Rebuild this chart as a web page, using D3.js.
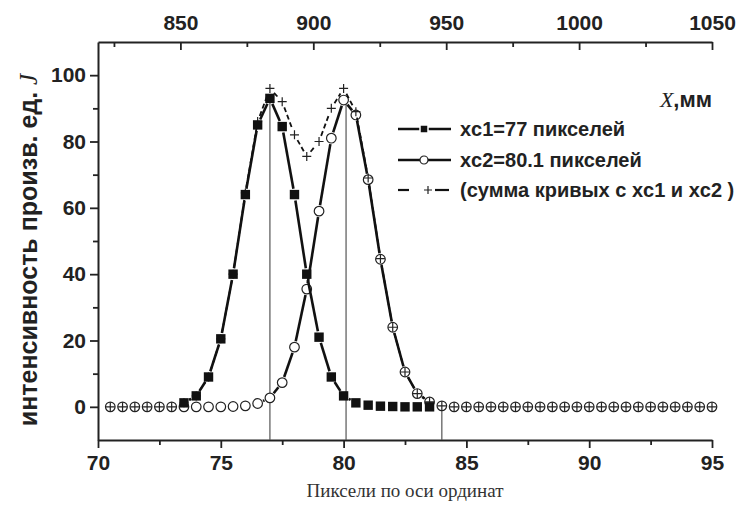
<!DOCTYPE html>
<html>
<head>
<meta charset="utf-8">
<script src="https://cdn.jsdelivr.net/npm/d3@7"></script>
<style>
  body { margin: 0; background: #fff; }
  svg { display: block; }
  .tick text { font-family: "Liberation Sans", Arial, sans-serif; font-weight: bold; font-size: 21px; fill: #222; }
  .axis path, .axis line { stroke: #222; }
</style>
</head>
<body>
<div id="chart"></div>
<script>
// pixel positions (x) for the circle series and the sum series
var pixels = [70.5, 71, 71.5, 72, 72.5, 73, 73.5, 74, 74.5, 75, 75.5, 76, 76.5, 77, 77.5, 78, 78.5, 79, 79.5, 80,
              80.5, 81, 81.5, 82, 82.5, 83, 83.5, 84, 84.5, 85, 85.5, 86, 86.5, 87, 87.5, 88, 88.5, 89, 89.5, 90,
              90.5, 91, 91.5, 92, 92.5, 93, 93.5, 94, 94.5, 95];

// xc1 = 77 (filled squares)
var pixels1 = [73.5, 74, 74.5, 75, 75.5, 76, 76.5, 77, 77.5, 78, 78.5, 79, 79.5, 80, 80.5, 81, 81.5, 82, 82.5, 83, 83.5];
var curve1  = [1.2, 3.3, 9, 20.5, 40, 64, 85, 93, 84.5, 64, 40, 21, 9, 3.3, 1.2, 0.5, 0.2, 0.1, 0, 0, 0];

// xc2 = 80.1 (open circles)
var curve2 = [0, 0, 0, 0, 0, 0, 0, 0, 0, 0, 0.1, 0.3, 1, 2.7, 7.3, 18, 35.5, 59, 81, 92.5,
              88, 68.5, 44.5, 24, 10.5, 4, 1.5, 0.3, 0, 0, 0, 0, 0, 0, 0, 0, 0, 0, 0, 0,
              0, 0, 0, 0, 0, 0, 0, 0, 0, 0];

// sum of both curves (crosses, dashed)
var curveSum = [0, 0, 0, 0, 0, 0, 1.2, 3.3, 9, 20.5, 40, 64.5, 86, 96, 92, 82, 75.5, 80, 90, 96,
                89, 69, 44.7, 24, 10.5, 4, 1.5, 0.3, 0, 0, 0, 0, 0, 0, 0, 0, 0, 0, 0, 0,
                0, 0, 0, 0, 0, 0, 0, 0, 0, 0];

// thin reference lines: centre positions and edge
var refX   = [77, 80.1, 84];
var refTop = [93, 92.5, 0];

var bottomTicks = [70, 75, 80, 85, 90, 95];
var bottomMinor = [72.5, 77.5, 82.5, 87.5, 92.5];
var topTicks = [850, 900, 950, 1000, 1050];
var topMinor = [825, 875, 925, 975, 1025];
var yTicks = [0, 20, 40, 60, 80, 100];
var yMinor = [10, 30, 50, 70, 90];

var legendLabels = ["xc1=77 пикселей", "xc2=80.1 пикселей", "(сумма кривых с xc1 и xc2 )"];

var width = 746, height = 505;
var svg = d3.select("#chart").append("svg").attr("width", width).attr("height", height);

var x = d3.scaleLinear().domain([70, 95]).range([98, 712]);
var xTop = d3.scaleLinear().domain([819, 1050]).range([98, 712]);
var y = d3.scaleLinear().domain([-10, 110]).range([440, 42]);

// axes
function minorTicks(axis, values, g) {
  g.call(axis.tickValues(values).tickFormat("").tickSizeOuter(0)).select(".domain").remove();
}

var gB = svg.append("g").attr("class", "axis").attr("transform", "translate(0," + y(-10) + ")");
gB.call(d3.axisBottom(x).tickValues(bottomTicks).tickSize(8).tickSizeOuter(0).tickPadding(4));
svg.append("g").attr("class", "axis").attr("transform", "translate(0," + y(-10) + ")")
  .call(function(g) { minorTicks(d3.axisBottom(x).tickSize(5), bottomMinor, g); });

var gT = svg.append("g").attr("class", "axis").attr("transform", "translate(0," + y(110) + ")");
gT.call(d3.axisTop(xTop).tickValues(topTicks).tickFormat(d3.format("d"))
  .tickSizeInner(-8).tickSizeOuter(0).tickPadding(12));
svg.append("g").attr("class", "axis").attr("transform", "translate(0," + y(110) + ")")
  .call(function(g) { minorTicks(d3.axisTop(xTop).tickSize(-5), topMinor, g); });

var gL = svg.append("g").attr("class", "axis").attr("transform", "translate(" + x(70) + ",0)");
gL.call(d3.axisLeft(y).tickValues(yTicks).tickSize(8).tickSizeOuter(0).tickPadding(4));
svg.append("g").attr("class", "axis").attr("transform", "translate(" + x(70) + ",0)")
  .call(function(g) { minorTicks(d3.axisLeft(y).tickSize(5), yMinor, g); });

svg.selectAll(".axis .domain").attr("stroke-width", 2);
svg.selectAll(".axis .tick line").attr("stroke-width", 1.8);
gB.selectAll(".tick text").attr("dy", "0.85em");

// reference lines
svg.append("g").selectAll("line").data(refX).join("line")
  .attr("x1", function(d) { return x(d); })
  .attr("x2", function(d) { return x(d); })
  .attr("y1", y(-10))
  .attr("y2", function(d, i) { return y(refTop[i]); })
  .attr("stroke", "#555").attr("stroke-width", 1.2);

// line drawn with a gap around each symbol, like Origin does
function gapLine(g, pts, gap, dash, sw) {
  for (var i = 0; i < pts.length - 1; i++) {
    var p0 = pts[i], p1 = pts[i + 1];
    var dx = p1[0] - p0[0], dy = p1[1] - p0[1];
    var L = Math.sqrt(dx * dx + dy * dy);
    if (L <= 2 * gap + 1) continue;
    var ux = dx / L, uy = dy / L;
    g.append("line")
      .attr("x1", p0[0] + ux * gap).attr("y1", p0[1] + uy * gap)
      .attr("x2", p1[0] - ux * gap).attr("y2", p1[1] - uy * gap)
      .attr("stroke", "#111").attr("stroke-width", sw)
      .attr("stroke-dasharray", dash || null);
  }
}

var pts2 = pixels.map(function(p, i) { return [x(p), y(curve2[i])]; });
var pts1 = pixels1.map(function(p, i) { return [x(p), y(curve1[i])]; });
var ptsS = pixels.map(function(p, i) { return [x(p), y(curveSum[i])]; });

var plot = svg.append("g");

// circles series
gapLine(plot.append("g"), pts2, 6, null, 2.6);
plot.append("g").selectAll("circle").data(pts2).join("circle")
  .attr("cx", function(d) { return d[0]; })
  .attr("cy", function(d) { return d[1]; })
  .attr("r", 4.8)
  .attr("fill", "#fff").attr("stroke", "#222").attr("stroke-width", 1.2);

// sum series
gapLine(plot.append("g"), ptsS, 6, "5,3", 1.8);
plot.append("g").selectAll("path").data(ptsS).join("path")
  .attr("d", function(d) { return "M" + (d[0] - 4.5) + "," + d[1] + "h9M" + d[0] + "," + (d[1] - 4.5) + "v9"; })
  .attr("stroke", "#222").attr("stroke-width", 1.2).attr("fill", "none");

// squares series
gapLine(plot.append("g"), pts1, 6, null, 2.6);
plot.append("g").selectAll("rect").data(pts1).join("rect")
  .attr("x", function(d) { return d[0] - 4.7; })
  .attr("y", function(d) { return d[1] - 4.7; })
  .attr("width", 9.4).attr("height", 9.4)
  .attr("fill", "#111");

// legend
var leg = svg.append("g");
var legY = [129, 160, 190];
legendLabels.forEach(function(t, i) {
  var row = leg.append("g").attr("transform", "translate(0," + legY[i] + ")");
  if (i < 2) {
    row.append("line").attr("x1", 398).attr("x2", 451).attr("y1", 0).attr("y2", 0)
      .attr("stroke", "#111").attr("stroke-width", 2.6);
  }
  if (i === 0) {
    row.append("rect").attr("x", 420).attr("y", -4).attr("width", 8).attr("height", 8)
      .attr("fill", "#111").attr("stroke", "#fff").attr("stroke-width", 1.5);
  } else if (i === 1) {
    row.append("circle").attr("cx", 424).attr("cy", 0).attr("r", 4)
      .attr("fill", "#fff").attr("stroke", "#222").attr("stroke-width", 1.2);
  } else {
    row.append("line").attr("x1", 398).attr("x2", 409).attr("y1", 0).attr("y2", 0)
      .attr("stroke", "#111").attr("stroke-width", 2.2);
    row.append("path").attr("d", "M424,-4h8M428,-8v8").attr("transform", "translate(0,4)")
      .attr("stroke", "#222").attr("stroke-width", 1.2);
    row.append("line").attr("x1", 435).attr("x2", 449).attr("y1", 0).attr("y2", 0)
      .attr("stroke", "#111").attr("stroke-width", 2.2);
  }
  row.append("text").attr("x", 460).attr("y", 7)
    .attr("font-family", "'Liberation Sans', Arial, sans-serif")
    .attr("font-weight", "bold").attr("font-size", 20).attr("fill", "#222")
    .text(t);
});

// axis titles
svg.append("text")
  .attr("x", 405).attr("y", 497)
  .attr("text-anchor", "middle")
  .attr("font-family", "'Liberation Serif', 'Times New Roman', serif")
  .attr("font-size", 19).attr("fill", "#333")
  .text("Пиксели по оси ординат");

var yl = svg.append("text")
  .attr("transform", "translate(37,250) rotate(-90)")
  .attr("text-anchor", "middle")
  .attr("font-family", "'Liberation Sans', Arial, sans-serif")
  .attr("font-weight", "bold").attr("font-size", 25).attr("fill", "#222");
yl.append("tspan").text("интенсивность произв. ед. ");
yl.append("tspan").attr("font-family", "'Liberation Serif', serif").attr("font-style", "italic")
  .attr("font-weight", "normal").text("J");

var xl = svg.append("text")
  .attr("x", 712).attr("y", 107)
  .attr("text-anchor", "end")
  .attr("font-size", 22).attr("fill", "#222");
xl.append("tspan").attr("font-family", "'Liberation Serif', serif").attr("font-style", "italic").text("X");
xl.append("tspan").attr("font-family", "'Liberation Sans', Arial, sans-serif").attr("font-weight", "bold").text(",мм");
</script>
</body>
</html>
